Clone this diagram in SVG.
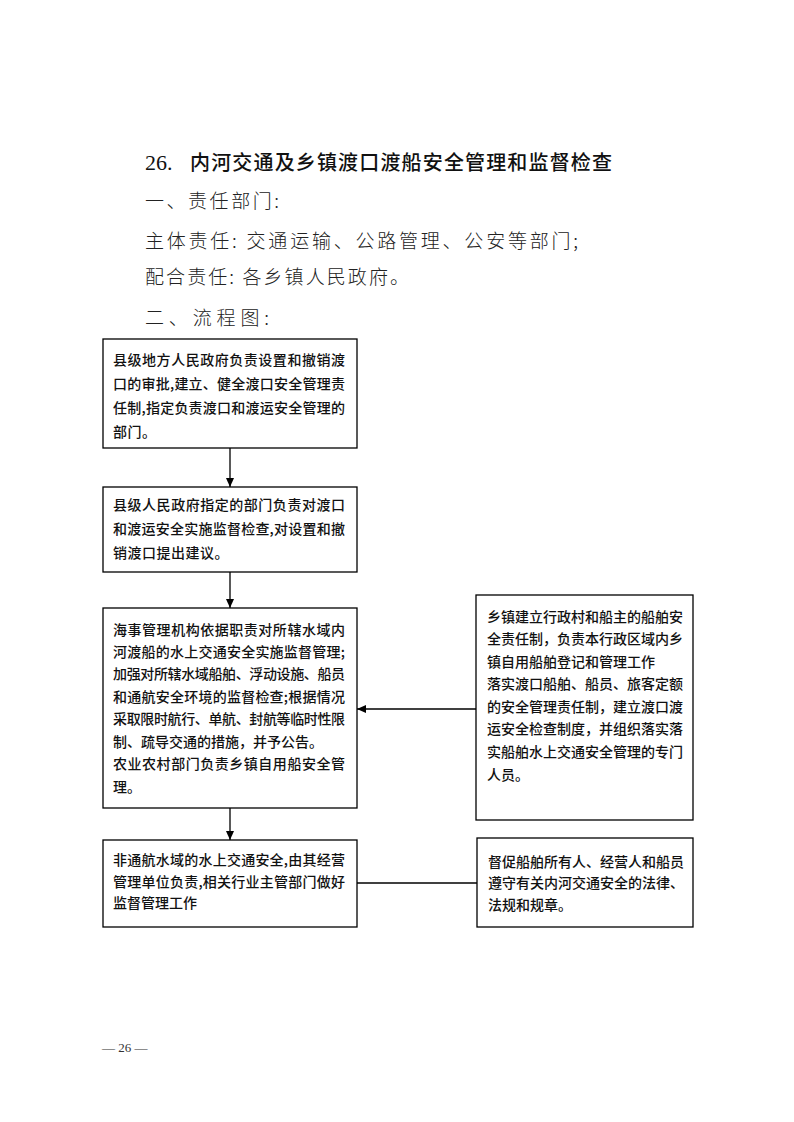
<svg xmlns="http://www.w3.org/2000/svg" width="794" height="1122" viewBox="0 0 794 1122">
<style>
.bg{fill:#fff}
.box{fill:#fff;stroke:#000;stroke-width:1.3}
.t{font-family:"Noto Sans CJK SC","Noto Sans CJK TC",sans-serif;font-size:14px;fill:#111;font-weight:500}
.h{font-family:"Noto Sans CJK SC","Noto Sans CJK TC",sans-serif;font-size:19px;fill:#222;font-weight:300}
.title{font-family:"Noto Sans CJK SC","Noto Sans CJK TC",sans-serif;font-size:20px;fill:#111;font-weight:500}
.num{font-family:"Liberation Serif",serif;font-size:22px;fill:#111}
.line{stroke:#000;stroke-width:1.3;fill:none}
.pg{font-family:"Liberation Serif",serif;font-size:13px;fill:#333}
</style>
<defs>
<marker id="arr" markerWidth="10" markerHeight="8" refX="9" refY="4" orient="auto" markerUnits="userSpaceOnUse">
<path d="M0,0 L9,4 L0,8 Z" fill="#000"/>
</marker>
</defs>
<rect class="bg" x="0" y="0" width="794" height="1122"/>
<g id="heading">
<text class="num" x="145" y="170">26.</text>
<text class="title" x="190" y="170" textLength="422" lengthAdjust="spacing">内河交通及乡镇渡口渡船安全管理和监督检查</text>
<text class="h" x="145" y="208" textLength="134" lengthAdjust="spacing">一、责任部门:</text>
<text class="h" x="145" y="248" textLength="433" lengthAdjust="spacing">主体责任: 交通运输、公路管理、公安等部门;</text>
<text class="h" x="145" y="284" textLength="264" lengthAdjust="spacing">配合责任: 各乡镇人民政府。</text>
<text class="h" x="145" y="325" textLength="124" lengthAdjust="spacing">二、流程图:</text>
</g>
<g id="connectors">
<line class="line" x1="230" y1="448" x2="230" y2="487" marker-end="url(#arr)"/>
<line class="line" x1="230" y1="572" x2="230" y2="608" marker-end="url(#arr)"/>
<line class="line" x1="230" y1="808" x2="230" y2="840" marker-end="url(#arr)"/>
<line class="line" x1="476" y1="709" x2="357" y2="709" marker-end="url(#arr)"/>
<line class="line" x1="357" y1="883" x2="477" y2="883"/>
</g>
<g id="n1">
<rect class="box" x="103" y="339" width="254" height="109"/>
<text class="t" x="113" y="365" textLength="232" lengthAdjust="spacing">县级地方人民政府负责设置和撤销渡</text>
<text class="t" x="113" y="389" textLength="232" lengthAdjust="spacing">口的审批,建立、健全渡口安全管理责</text>
<text class="t" x="113" y="413" textLength="232" lengthAdjust="spacing">任制,指定负责渡口和渡运安全管理的</text>
<text class="t" x="113" y="437" letter-spacing="0.5">部门。</text>
</g>
<g id="n2">
<rect class="box" x="103" y="487" width="254" height="85"/>
<text class="t" x="113" y="510" textLength="232" lengthAdjust="spacing">县级人民政府指定的部门负责对渡口</text>
<text class="t" x="113" y="534" textLength="232" lengthAdjust="spacing">和渡运安全实施监督检查,对设置和撤</text>
<text class="t" x="113" y="558" letter-spacing="0.5">销渡口提出建议。</text>
</g>
<g id="n3">
<rect class="box" x="103" y="608" width="254" height="200"/>
<text class="t" x="113" y="635" textLength="232" lengthAdjust="spacing">海事管理机构依据职责对所辖水域内</text>
<text class="t" x="113" y="657" textLength="232" lengthAdjust="spacing">河渡船的水上交通安全实施监督管理;</text>
<text class="t" x="113" y="679" textLength="232" lengthAdjust="spacing">加强对所辖水域船舶、浮动设施、船员</text>
<text class="t" x="113" y="702" textLength="232" lengthAdjust="spacing">和通航安全环境的监督检查;根据情况</text>
<text class="t" x="113" y="724" textLength="232" lengthAdjust="spacing">采取限时航行、单航、封航等临时性限</text>
<text class="t" x="113" y="747">制、疏导交通的措施，并予公告。</text>
<text class="t" x="113" y="769" textLength="232" lengthAdjust="spacing">农业农村部门负责乡镇自用船安全管</text>
<text class="t" x="113" y="792">理。</text>
</g>
<g id="n4">
<rect class="box" x="476" y="595" width="217" height="225"/>
<text class="t" x="487" y="622" textLength="196" lengthAdjust="spacing">乡镇建立行政村和船主的船舶安</text>
<text class="t" x="487" y="644" textLength="196" lengthAdjust="spacing">全责任制，负责本行政区域内乡</text>
<text class="t" x="487" y="667">镇自用船舶登记和管理工作</text>
<text class="t" x="487" y="689" textLength="196" lengthAdjust="spacing">落实渡口船舶、船员、旅客定额</text>
<text class="t" x="487" y="712" textLength="196" lengthAdjust="spacing">的安全管理责任制，建立渡口渡</text>
<text class="t" x="487" y="734" textLength="196" lengthAdjust="spacing">运安全检查制度，并组织落实落</text>
<text class="t" x="487" y="757" textLength="196" lengthAdjust="spacing">实船舶水上交通安全管理的专门</text>
<text class="t" x="487" y="780">人员。</text>
</g>
<g id="n5">
<rect class="box" x="103" y="840" width="254" height="87"/>
<text class="t" x="113" y="865" textLength="232" lengthAdjust="spacing">非通航水域的水上交通安全,由其经营</text>
<text class="t" x="113" y="887" textLength="232" lengthAdjust="spacing">管理单位负责,相关行业主管部门做好</text>
<text class="t" x="113" y="908">监督管理工作</text>
</g>
<g id="n6">
<rect class="box" x="477" y="838" width="216" height="89"/>
<text class="t" x="488" y="867" textLength="196" lengthAdjust="spacing">督促船舶所有人、经营人和船员</text>
<text class="t" x="488" y="888" textLength="196" lengthAdjust="spacing">遵守有关内河交通安全的法律、</text>
<text class="t" x="488" y="910">法规和规章。</text>
</g>
<g id="footer">
<text class="pg" x="102" y="1052">— 26 —</text>
</g>
</svg>
